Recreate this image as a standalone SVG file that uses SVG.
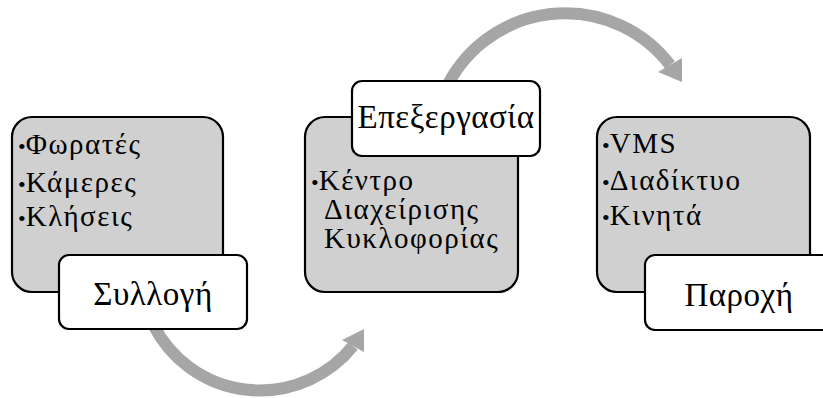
<svg xmlns="http://www.w3.org/2000/svg" width="823" height="398" viewBox="0 0 823 398">
<style>
.bg{fill:#d0d0d0;stroke:#000;stroke-width:2.2}
.lb{fill:#fff;stroke:#000;stroke-width:2.2}
.t{font-family:"Liberation Serif","Times New Roman",serif;font-size:29px;letter-spacing:1.5px;fill:#000}
.b{font-size:22px;letter-spacing:0}
.h{font-family:"Liberation Serif","Times New Roman",serif;font-size:33px;letter-spacing:0.5px;fill:#000;text-anchor:middle}
.arc{fill:none;stroke:#a6a6a6;stroke-width:12}
.head{fill:#a6a6a6}
</style>
<g id="connectors">
<path class="arc" d="M153.4,325 A119.5,119.5 0 0 0 353,346"/>
<polygon class="head" points="364,329 342,340 364,352"/>
<path class="arc" d="M445.3,90 A132,132 0 0 1 670,65"/>
<polygon class="head" points="682,82 658,72 682,58"/>
</g>
<g id="node-collection">
<rect class="bg" x="12" y="117" width="211" height="175" rx="20"/>
<text class="t" x="18" y="154"><tspan class="b">•</tspan>Φωρατές</text>
<text class="t" x="18" y="192"><tspan class="b">•</tspan>Κάμερες</text>
<text class="t" x="18" y="226"><tspan class="b">•</tspan>Κλήσεις</text>
</g>
<g id="label-collection">
<rect class="lb" x="59" y="255" width="188" height="74" rx="10"/>
<text class="h" x="153" y="305">Συλλογή</text>
</g>
<g id="node-processing">
<rect class="bg" x="305" y="117" width="213" height="175" rx="20"/>
<text class="t" x="311" y="190"><tspan class="b">•</tspan>Κέντρο</text>
<text class="t" x="324" y="219">Διαχείρισης</text>
<text class="t" x="324" y="248">Κυκλοφορίας</text>
</g>
<g id="label-processing">
<rect class="lb" x="352" y="81" width="188" height="75" rx="10"/>
<text class="h" x="446" y="128">Επεξεργασία</text>
</g>
<g id="node-delivery">
<rect class="bg" x="597" y="117" width="213" height="175" rx="20"/>
<text class="t" x="602" y="153"><tspan class="b">•</tspan>VMS</text>
<text class="t" x="602" y="190"><tspan class="b">•</tspan>Διαδίκτυο</text>
<text class="t" x="602" y="225"><tspan class="b">•</tspan>Κινητά</text>
</g>
<g id="label-delivery">
<rect class="lb" x="645" y="255" width="189" height="75" rx="10"/>
<text class="h" x="739" y="306">Παροχή</text>
</g>
</svg>
